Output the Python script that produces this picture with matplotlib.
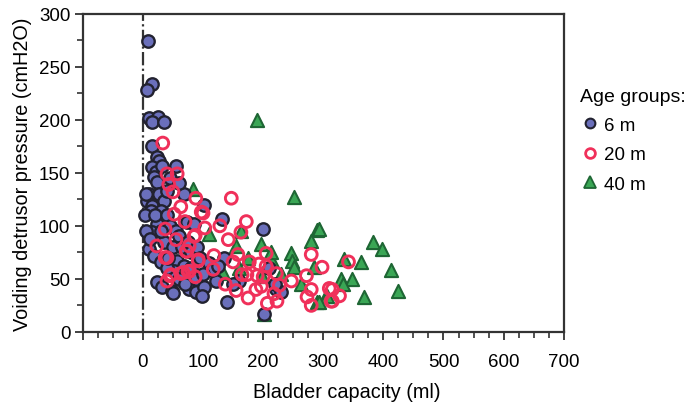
import matplotlib
matplotlib.use("Agg")
import matplotlib.pyplot as plt
from matplotlib.ticker import MultipleLocator, FuncFormatter
from matplotlib.lines import Line2D

plt.rcParams["font.family"] = ["Liberation Sans", "DejaVu Sans"]

# 6 m group (bladder capacity ml, voiding pressure cmH2O)
x6 = [8, 15, 7, 10, 25, 15, 35, 15, 23, 27, 15, 22, 32, 55, 18, 23, 10, 7, 15, 27,
      35, 30, 13, 40, 68, 73, 85, 23, 15, 10, 18, 30, 57, 68, 52, 88, 23, 32, 48, 77,
      88, 102, 102, 132, 200, 135, 122, 160, 140, 202, 50, 98, 222, 230,
      5, 3, 20, 40, 45, 55, 60, 35, 50, 65, 75, 80, 90, 95, 40, 60, 70, 110, 115, 125,
      45, 60, 5, 12, 30, 42, 80, 100, 150, 220, 210]
y6 = [274, 234, 228, 202, 203, 198, 198, 175, 165, 161, 155, 151, 156, 156, 146, 141, 130, 123, 119, 130,
      123, 114, 114, 133, 130, 104, 102, 102, 94, 78, 72, 66, 67, 62, 57, 50, 47, 42, 39, 40,
      38, 42, 120, 106, 97, 70, 48, 48, 28, 17, 37, 34, 40, 38,
      130, 110, 110, 110, 100, 95, 90, 85, 80, 80, 85, 75, 80, 70, 60, 50, 45, 65, 58, 62,
      145, 140, 95, 88, 95, 70, 60, 55, 45, 45, 60]

# 20 m group
x20 = [33, 40, 57, 43, 50, 88, 63, 52, 70, 37, 97, 55, 85, 23, 40, 73, 92, 67, 77, 45,
       40, 147, 100, 128, 172, 103, 163, 87, 142, 77, 72, 118, 158, 205, 37, 92, 150, 177, 193, 205,
       117, 47, 63, 75, 87, 165, 173, 200, 222, 137, 188, 155, 175, 207, 280, 190, 247, 272, 197, 227,
       280, 310, 218, 273, 313, 280, 223, 298, 342, 315, 327, 315]
y20 = [178, 149, 149, 139, 132, 126, 118, 111, 104, 97, 113, 87, 90, 81, 70, 76, 67, 56, 57, 53,
       48, 126, 112, 100, 104, 98, 94, 91, 87, 81, 76, 72, 73, 74, 70, 68, 66, 66, 64, 62,
       59, 54, 55, 57, 52, 54, 54, 52, 55, 45, 40, 39, 32, 27, 73, 53, 48, 53, 43, 44,
       40, 41, 36, 33, 29, 25, 29, 61, 66, 40, 34, 29]

# 40 m group
x40 = [190, 252, 83, 110, 133, 88, 163, 155, 197, 215, 213, 290, 280, 247, 248, 252, 285, 198, 263, 305,
       290, 202, 293, 382, 397, 335, 362, 413, 330, 348, 332, 425, 307, 367, 293, 160, 230, 175]
y40 = [200, 127, 135, 92, 56, 52, 95, 81, 83, 67, 75, 96, 86, 74, 67, 61, 61, 53, 45, 34,
       28, 17, 97, 85, 78, 69, 66, 58, 50, 50, 45, 39, 34, 33, 28, 60, 55, 70]

groups = ["6 m", "20 m", "40 m"]
xticks_lab = [0, 100, 200, 300, 400, 500, 600, 700]

fig = plt.figure(figsize=(6.9, 4.06), dpi=100)
ax = fig.add_axes([0.120, 0.180, 0.697, 0.784])

ax.axvline(0, color="#333333", lw=1.6, ls=(0, (6, 1.5, 1, 1.5)), zorder=1)

ax.scatter(x6, y6, s=80, marker="o", facecolor="#6a6fbb", edgecolor="#222230", linewidth=1.7, zorder=3)
ax.scatter(x20, y20, s=72, marker="o", facecolor="none", edgecolor="#f0305a", linewidth=2.1, zorder=4)
ax.scatter(x40, y40, s=90, marker="^", facecolor="#3aa655", edgecolor="#1e6634", linewidth=1.5, zorder=2)

ax.set_xlim(-100, 700)
ax.set_ylim(0, 300)
ax.xaxis.set_major_locator(MultipleLocator(100))
ax.xaxis.set_minor_locator(MultipleLocator(25))
ax.yaxis.set_major_locator(MultipleLocator(50))
ax.yaxis.set_minor_locator(MultipleLocator(25))
ax.xaxis.set_major_formatter(FuncFormatter(lambda v, p: f"{int(v)}" if int(round(v)) in xticks_lab else ""))
ax.tick_params(which="major", direction="out", length=6, width=1.3, color="#333333", labelsize=13.5, pad=9)
ax.tick_params(axis="y", which="major", pad=3)
ax.tick_params(which="minor", direction="out", length=4, width=1.2, color="#333333")
for s in ax.spines.values():
    s.set_color("#333333"); s.set_linewidth(1.6)

ax.set_xlabel("Bladder capacity (ml)", fontsize=14.3, labelpad=9)
ax.xaxis.label.set_x(0.548)
ax.set_ylabel("Voiding detrusor pressure (cmH2O)", fontsize=14.3, labelpad=5)

handles = [
    Line2D([], [], ls="none", marker="o", ms=7, mfc="#6a6fbb", mec="#222230", mew=1.5),
    Line2D([], [], ls="none", marker="o", ms=7, mfc="none", mec="#f0305a", mew=2.0),
    Line2D([], [], ls="none", marker="^", ms=8, mfc="#3aa655", mec="#1e6634", mew=1.3),
]
leg = fig.legend(handles, groups, title="Age groups:", loc="upper left", bbox_to_anchor=(0.83, 0.80),
                 frameon=False, fontsize=13.5, title_fontsize=14, handletextpad=0.25,
                 labelspacing=0.65, handlelength=1.0, borderaxespad=0)
leg._legend_box.align = "left"

fig.savefig("out.png", dpi=100)
